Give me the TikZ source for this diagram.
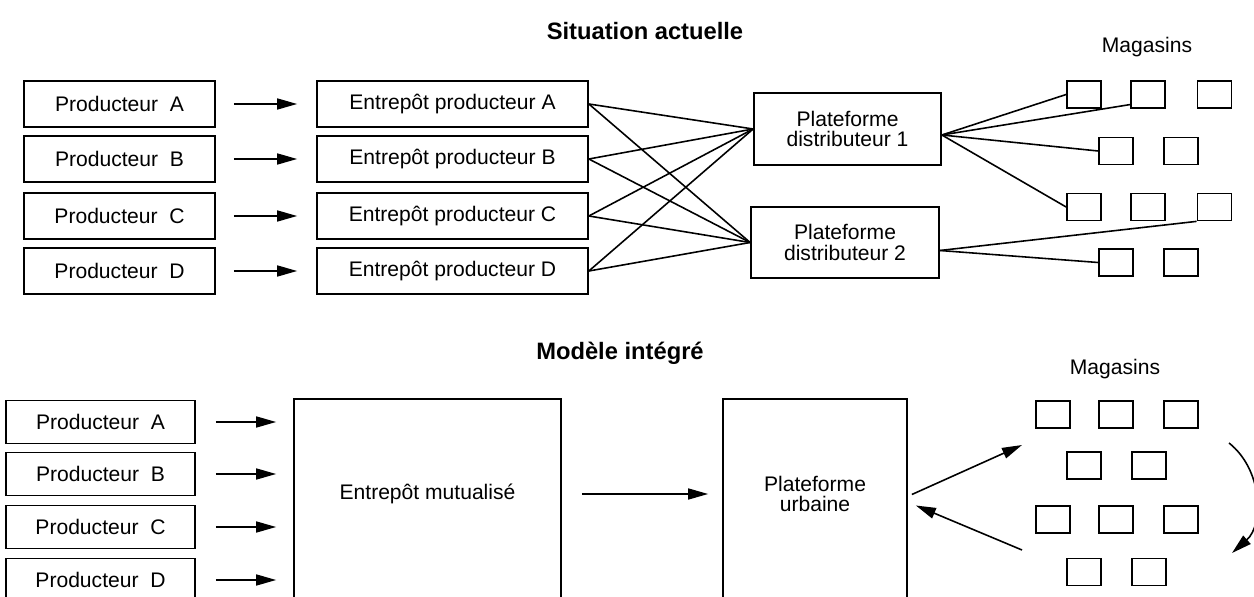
\documentclass[tikz,border=0pt]{standalone}
\usepackage{fontspec}
\setsansfont{Liberation Sans}
\usetikzlibrary{arrows.meta, positioning, calc}
\tikzset{
  every picture/.style={font=\sffamily\fontsize{12}{11.5}\selectfont, line width=1pt},
  box/.style={draw=black, align=center, inner sep=0pt, minimum width=#1, minimum height=0.92cm},
  box/.default=3.82cm,
  shop/.style={draw=black, inner sep=0pt, minimum width=0.68cm, minimum height=0.54cm},
  arrow/.style={-{Triangle[length=4mm, width=2.2mm]}, draw=black, line width=0.9pt},
  link/.style={draw=black, line width=0.9pt},
  title/.style={font=\sffamily\bfseries\fontsize{13.5}{14}\selectfont},
}

\begin{document}
\begin{tikzpicture}[x=0.02cm, y=-0.02cm]
  \useasboundingbox (0,0) rectangle (1254,597);
  \clip (0,0) rectangle (1254,597);
  % top: situation actuelle
  \node[title] (t1) at (645,31) {Situation actuelle};
  \node (mag1) at (1147,47) {Magasins};
  \foreach \n/\y in {A/104,B/159,C/216,D/271} {
    \node[box] (p\n) at (119.5,\y) {Producteur~~\n};
    \node[box=5.42cm] (e\n) at (452.5,\y) {Entrepôt producteur \n};
    \draw[arrow, shorten <=3.6mm, shorten >=3.8mm] (p\n.east) -- (e\n.west);
  }
  \node[box=3.74cm, minimum height=1.44cm] (P1) at (847.5,129) {Plateforme\\distributeur 1};
  \node[box=3.76cm, minimum height=1.42cm] (P2) at (845,242.5) {Plateforme\\distributeur 2};
  \foreach \n in {A,B,C,D} {
    \draw[link] (e\n.east) -- (P1.west);
    \draw[link] (e\n.east) -- (P2.west);
  }
  \foreach \i/\x in {1/1084,2/1148,3/1214.5} {
    \node[shop] (s1\i) at (\x,94.5) {};
    \node[shop] (s3\i) at (\x,207) {};
  }
  \foreach \i/\x in {1/1116,2/1181} {
    \node[shop] (s2\i) at (\x,151) {};
    \node[shop] (s4\i) at (\x,262.5) {};
  }
  \coordinate (o1) at ($(P1.east)+(0,6)$);
  \coordinate (o2) at ($(P2.east)+(0,8)$);
  \draw[link] (o1) -- (s11.west);
  \draw[link] (o1) -- ($(s12.west)!0.7!(s12.south west)$);
  \draw[link] (o1) -- (s21.west);
  \draw[link] (o1) -- (s31.west);
  \draw[link] (o2) -- (s33.south west);
  \draw[link] (o2) -- (s41.west);
  % bottom: modele integre
  \node[title] (t2) at (620,353) {Modèle intégré};
  \node (mag2) at (1115,369) {Magasins};
  \node[box=5.34cm, minimum height=4.42cm] (mut) at (427.5,509.5) {};
  \node (mutl) at (427.5,494) {Entrepôt mutualisé};
  \foreach \n/\y in {A/422,B/474,C/527,D/580} {
    \node[box=3.78cm, minimum height=0.86cm] (q\n) at (100.5,\y) {Producteur~~\n};
    \draw[arrow, shorten <=4mm, shorten >=3.4mm] (q\n.east) -- (q\n.east -| mut.west);
  }
  \node[box=3.68cm, minimum height=4.42cm] (urb) at (815,509.5) {};
  \node[align=center] (urbl) at (815,494) {Plateforme\\urbaine};
  \draw[arrow, shorten <=4mm, shorten >=2.8mm] (mutl -| mut.east) -- (mutl -| urb.west);
  \foreach \i/\x in {1/1053,2/1116,3/1181} {
    \node[shop] (m1\i) at (\x,414.5) {};
    \node[shop] (m3\i) at (\x,519.5) {};
  }
  \foreach \i/\x in {1/1084,2/1149} {
    \node[shop] (m2\i) at (\x,465.5) {};
    \node[shop] (m4\i) at (\x,572) {};
  }
  \coordinate (u1) at (1022,445);
  \coordinate (u2) at (1022,550);
  \draw[arrow] ($(urb.east)+(4,-15)$) -- (u1);
  \draw[arrow] (u2) -- ($(urb.east)+(8,-4)$);
  \coordinate (c1) at (1229,443);
  \coordinate (c2) at (1232,553);
  \draw[arrow] (c1) to[bend left=50] (c2);
\end{tikzpicture}
\end{document}
